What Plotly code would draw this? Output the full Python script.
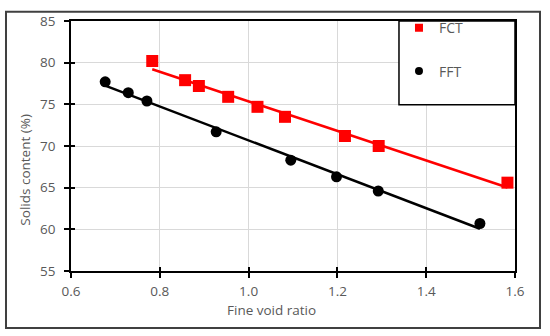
import numpy as np
import plotly.graph_objects as go

# Data
fct_x = [0.783, 0.857, 0.888, 0.954, 1.020, 1.082, 1.217, 1.293, 1.583]
fct_y = [80.2, 77.9, 77.2, 75.9, 74.7, 73.5, 71.2, 70.0, 65.6]
fft_x = [0.677, 0.729, 0.771, 0.927, 1.095, 1.198, 1.292, 1.521]
fft_y = [77.7, 76.4, 75.4, 71.7, 68.3, 66.3, 64.6, 60.7]

x_ticks = [0.6, 0.8, 1.0, 1.2, 1.4, 1.6]
x_tick_text = ["0.6", "0.8", "1.0", "1.2", "1.4", "1.6"]
y_ticks = [55, 60, 65, 70, 75, 80, 85]

FONT = "Open Sans"
GREY = "#595959"


def fit_line(xs, ys):
    k, b = np.polyfit(xs, ys, 1)
    xx = [min(xs), max(xs)]
    return xx, [k * v + b for v in xx]


fig = go.Figure()

lx, ly = fit_line(fct_x, fct_y)
fig.add_trace(go.Scatter(x=lx, y=ly, mode="lines", line=dict(color="#ff0000", width=2.5),
                         showlegend=False, hoverinfo="skip"))
lx, ly = fit_line(fft_x, fft_y)
fig.add_trace(go.Scatter(x=lx, y=ly, mode="lines", line=dict(color="#000000", width=2.5),
                         showlegend=False, hoverinfo="skip"))

fig.add_trace(go.Scatter(x=fct_x, y=fct_y, mode="markers", name="FCT", showlegend=False,
                         marker=dict(symbol="square", size=12, color="#ff0000")))
fig.add_trace(go.Scatter(x=fft_x, y=fft_y, mode="markers", name="FFT", showlegend=False,
                         marker=dict(symbol="circle", size=11, color="#000000")))

# legend entries (smaller symbols, as in the reference legend)
fig.add_trace(go.Scatter(x=[None], y=[None], mode="markers", name="FCT", legendgroup="a",
                         marker=dict(symbol="square", size=8, color="#ff0000")))
fig.add_trace(go.Scatter(x=[None], y=[None], mode="markers", name="FFT", legendgroup="b",
                         marker=dict(symbol="circle", size=8, color="#000000")))

# invisible trace to anchor the inside-tick overlay axes
fig.add_trace(go.Scatter(x=[x_ticks[0]], y=[y_ticks[0]], xaxis="x2", yaxis="y2",
                         mode="markers", marker=dict(opacity=0), showlegend=False,
                         hoverinfo="skip"))

axis_common = dict(showline=True, linecolor="black", linewidth=1.5, mirror=True,
                   ticks="outside", ticklen=5, tickwidth=1.5, tickcolor="black",
                   showgrid=True, gridcolor="#d9d9d9", gridwidth=1, zeroline=False,
                   tickfont=dict(family=FONT, size=13.5, color=GREY))

fig.update_layout(
    width=550, height=336,
    margin=dict(l=71, r=35, t=17, b=65),
    paper_bgcolor="white", plot_bgcolor="white",
    font=dict(family=FONT, color=GREY),
    xaxis=dict(range=[0.6, 1.6], tickvals=x_ticks, ticktext=x_tick_text,
               ticklabelstandoff=2, **axis_common),
    yaxis=dict(range=[55, 85], tickvals=y_ticks, ticklabelstandoff=6, **axis_common),
    xaxis2=dict(range=[0.6, 1.6], overlaying="x", anchor="y", side="bottom",
                tickvals=x_ticks, ticks="inside", ticklen=4, tickwidth=1.5,
                tickcolor="black", showticklabels=False, showgrid=False,
                showline=False, zeroline=False),
    yaxis2=dict(range=[55, 85], overlaying="y", anchor="x", side="left",
                tickvals=y_ticks, ticks="inside", ticklen=4, tickwidth=1.5,
                tickcolor="black", showticklabels=False, showgrid=False,
                showline=False, zeroline=False),
    legend=dict(x=0.7387, y=1.035, xanchor="left", yanchor="top",
                bgcolor="rgba(0,0,0,0)", borderwidth=0,
                traceorder="grouped", tracegroupgap=22,
                font=dict(family=FONT, size=14, color=GREY)),
    shapes=[
        dict(type="rect", xref="paper", yref="paper", x0=0.7387, x1=1.0, y0=0.6654, y1=1.0,
             line=dict(color="black", width=1.5), fillcolor="white", layer="above"),
        dict(type="rect", xref="paper", yref="paper", x0=-0.1464, x1=1.0563,
             y0=-0.2283, y1=1.0374, line=dict(color="#404040", width=2),
             fillcolor="rgba(0,0,0,0)", layer="above"),
    ],
    annotations=[
        dict(text="Solids content (%)", xref="paper", yref="paper", x=-0.1036, y=0.4055,
             textangle=-90, showarrow=False, xanchor="center", yanchor="middle",
             font=dict(family=FONT, size=13.5, color=GREY)),
        dict(text="Fine void ratio", xref="paper", yref="paper", x=0.4527, y=-0.157,
             showarrow=False, xanchor="center", yanchor="middle",
             font=dict(family=FONT, size=13.5, color=GREY)),
    ],
)

fig.write_html("out.html", config={"displayModeBar": False},
               post_script="document.body.style.margin='0';")
